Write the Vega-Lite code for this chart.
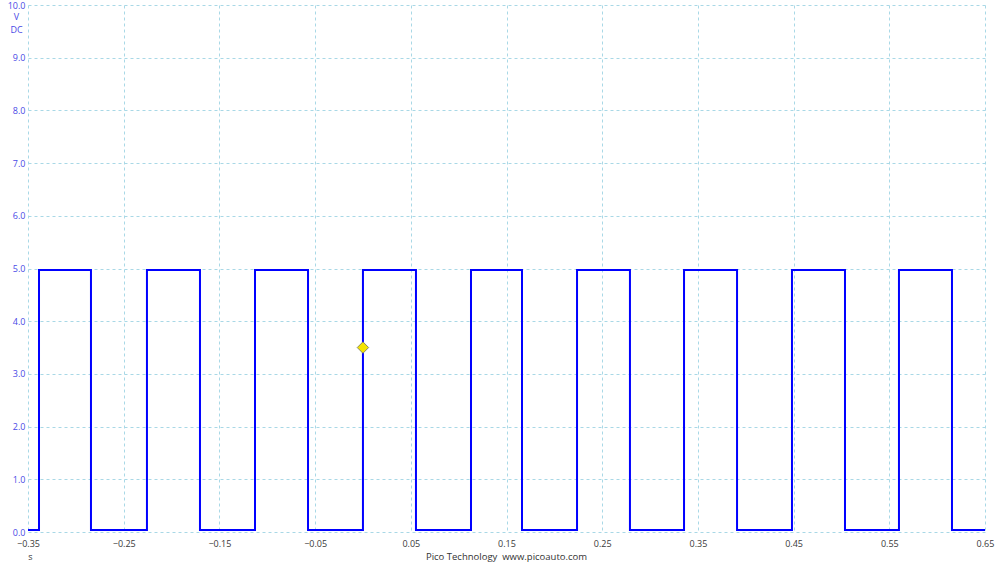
{
  "$schema": "https://vega.github.io/schema/vega-lite/v6.json",
  "width": 957,
  "height": 527,
  "autosize": "none",
  "padding": {"left": 28, "top": 5, "right": 15, "bottom": 31},
  "background": "white",
  "config": {"view": {"stroke": null}, "font": "Open Sans"},
  "title": {"text": "Pico Technology\u00a0\u00a0www.picoauto.com", "orient": "bottom", "anchor": "middle", "fontSize": 9.5, "fontWeight": "normal", "color": "#333333", "offset": -9, "font": "Open Sans", "baseline": "top"},
  "datasets": {
    "wave": [
      {"i": 0, "t": -0.35, "v": 0.04},
      {"i": 1, "t": -0.3385, "v": 0.04},
      {"i": 2, "t": -0.3385, "v": 4.97},
      {"i": 3, "t": -0.2842, "v": 4.97},
      {"i": 4, "t": -0.2842, "v": 0.04},
      {"i": 5, "t": -0.2257, "v": 0.04},
      {"i": 6, "t": -0.2257, "v": 4.97},
      {"i": 7, "t": -0.1703, "v": 4.97},
      {"i": 8, "t": -0.1703, "v": 0.04},
      {"i": 9, "t": -0.1128, "v": 0.04},
      {"i": 10, "t": -0.1128, "v": 4.97},
      {"i": 11, "t": -0.0574, "v": 4.97},
      {"i": 12, "t": -0.0574, "v": 0.04},
      {"i": 13, "t": 0.0, "v": 0.04},
      {"i": 14, "t": 0.0, "v": 4.97},
      {"i": 15, "t": 0.0554, "v": 4.97},
      {"i": 16, "t": 0.0554, "v": 0.04},
      {"i": 17, "t": 0.1129, "v": 0.04},
      {"i": 18, "t": 0.1129, "v": 4.97},
      {"i": 19, "t": 0.1662, "v": 4.97},
      {"i": 20, "t": 0.1662, "v": 0.04},
      {"i": 21, "t": 0.2237, "v": 0.04},
      {"i": 22, "t": 0.2237, "v": 4.97},
      {"i": 23, "t": 0.279, "v": 4.97},
      {"i": 24, "t": 0.279, "v": 0.04},
      {"i": 25, "t": 0.3355, "v": 0.04},
      {"i": 26, "t": 0.3355, "v": 4.97},
      {"i": 27, "t": 0.3909, "v": 4.97},
      {"i": 28, "t": 0.3909, "v": 0.04},
      {"i": 29, "t": 0.4483, "v": 0.04},
      {"i": 30, "t": 0.4483, "v": 4.97},
      {"i": 31, "t": 0.5037, "v": 4.97},
      {"i": 32, "t": 0.5037, "v": 0.04},
      {"i": 33, "t": 0.5601, "v": 0.04},
      {"i": 34, "t": 0.5601, "v": 4.97},
      {"i": 35, "t": 0.6155, "v": 4.97},
      {"i": 36, "t": 0.6155, "v": 0.04},
      {"i": 37, "t": 0.65, "v": 0.04}
    ],
    "trigger": [{"t": 0.0, "v": 3.5}]
  },
  "layer": [
    {
      "data": {"name": "wave"},
      "mark": {"type": "line", "color": "#0000ff", "strokeWidth": 2, "clip": true},
      "encoding": {
        "x": {
          "field": "t", "type": "quantitative",
          "scale": {"domain": [-0.35, 0.65], "nice": false, "zero": false},
          "axis": {
            "values": [-0.35, -0.25, -0.15, -0.05, 0.05, 0.15, 0.25, 0.35, 0.45, 0.55, 0.65],
            "format": ".2f",
            "domain": false, "ticks": false,
            "grid": true, "gridColor": "#a9d8e6", "gridDash": [3, 3], "gridWidth": 1,
            "labelFontSize": 9, "labelColor": "#3a3a3a", "labelPadding": 7, "labelFont": "Open Sans",
            "labelOverlap": false, "labelBound": false, "labelFlush": false,
            "title": "s", "titleFontSize": 9, "titleFontWeight": "normal", "titleColor": "#3a3a3a",
            "titleAnchor": "start", "titleAlign": "center", "titleBaseline": "middle", "titleX": 2, "titleY": 24, "titleFont": "Open Sans"
          }
        },
        "y": {
          "field": "v", "type": "quantitative",
          "scale": {"domain": [0, 10], "nice": false},
          "axis": {
            "values": [0, 1, 2, 3, 4, 5, 6, 7, 8, 9, 10],
            "format": ".1f",
            "domain": false, "ticks": false,
            "grid": true, "gridColor": "#a9d8e6", "gridDash": [3, 3], "gridWidth": 1,
            "labelFontSize": 9, "labelColor": "#4a4ae6", "labelPadding": 3, "labelFont": "Open Sans",
            "labelOverlap": false, "labelBound": false, "labelFlush": false,
            "title": ["V", "DC"], "titleAngle": 0, "titleFontSize": 9, "titleFontWeight": "normal",
            "titleColor": "#4a4ae6", "titleAlign": "center", "titleBaseline": "top",
            "titleX": -12, "titleY": 7, "titleLineHeight": 13, "titleFont": "Open Sans"
          }
        },
        "order": {"field": "i", "type": "quantitative"}
      }
    },
    {
      "data": {"name": "trigger"},
      "mark": {"type": "point", "shape": "diamond", "filled": true, "fill": "#f5e400", "stroke": "#8a8a60", "strokeWidth": 1, "size": 130, "opacity": 1},
      "encoding": {
        "x": {"field": "t", "type": "quantitative"},
        "y": {"field": "v", "type": "quantitative"}
      }
    }
  ]
}
